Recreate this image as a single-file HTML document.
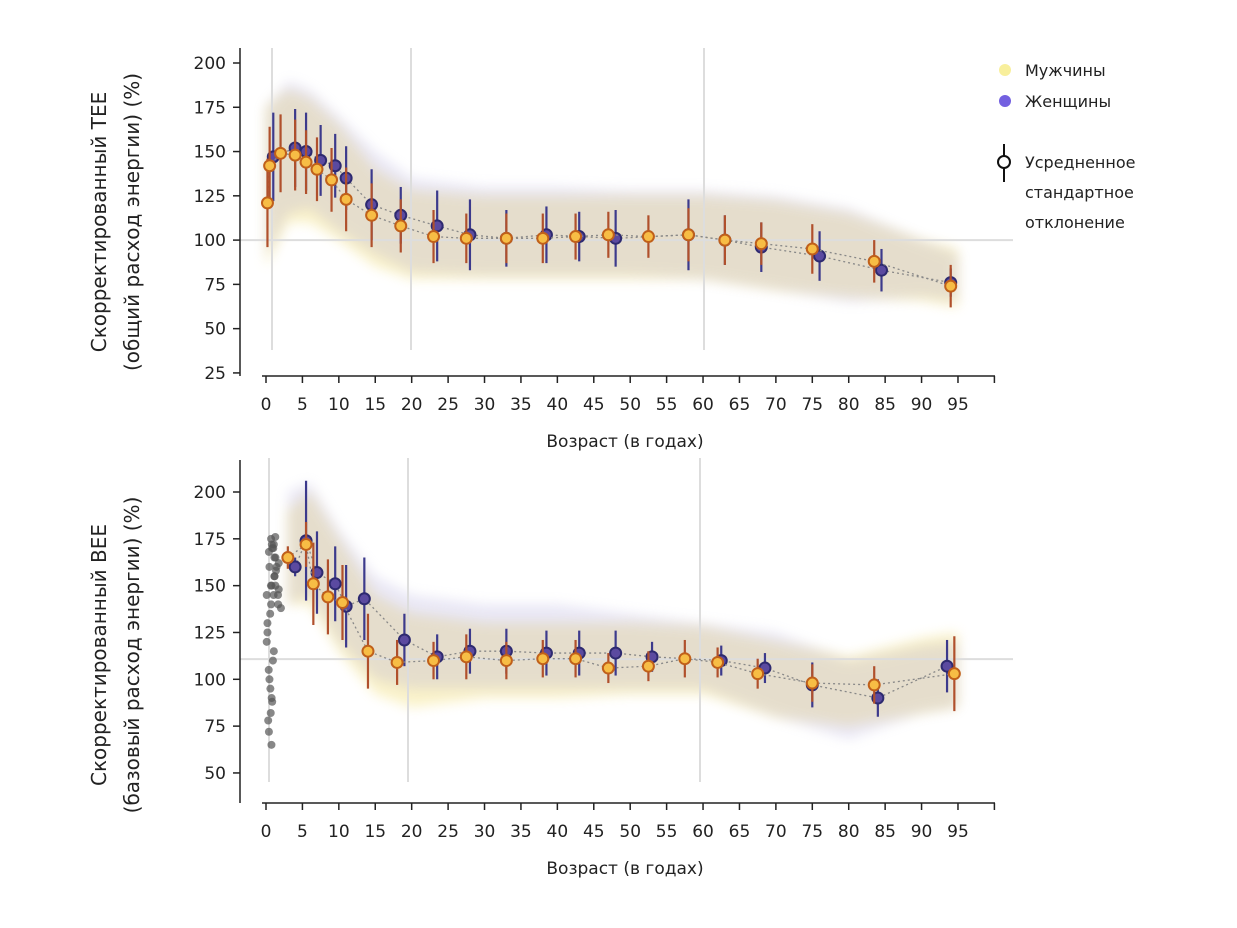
<!DOCTYPE html>
<html><head><meta charset="utf-8"><style>
html,body{margin:0;padding:0;background:#fff;}
svg{display:block;font-family:"DejaVu Sans","Liberation Sans",sans-serif;}
</style></head><body>
<svg id="chart" width="1237" height="928" viewBox="0 0 1237 928" xmlns="http://www.w3.org/2000/svg">
<defs><filter id="blur" x="-20%" y="-20%" width="140%" height="140%"><feGaussianBlur stdDeviation="6"/></filter></defs>
<g id="top"></g>
<g id="bot"></g>
<g font-size="16" fill="#222">
  <circle cx="1005" cy="70" r="6" fill="#f8ef9c"/>
  <text x="1025" y="76">Мужчины</text>
  <circle cx="1005" cy="101" r="6" fill="#7360e0"/>
  <text x="1025" y="107">Женщины</text>
  <line x1="1004" y1="144" x2="1004" y2="182" stroke="#111" stroke-width="2"/>
  <circle cx="1004" cy="162" r="6" fill="#fff" stroke="#111" stroke-width="2"/>
  <text x="1025" y="168">Усредненное</text>
  <text x="1025" y="198">стандартное</text>
  <text x="1025" y="228">отклонение</text>
</g>
</svg>
<script>
// ---- data: top panel (TEE) ----
const teeMenAge=[0.2,0.5,2,4,5.5,7,9,11,14.5,18.5,23,27.5,33,38,42.5,47,52.5,58,63,68,75,83.5,94];
const teeMenVal=[121,142,149,148,144,140,134,123,114,108,102,101,101,101,102,103,102,103,100,98,95,88,74];
const teeMenSd=[25,22,22,20,18,18,18,18,18,15,15,14,14,14,13,13,12,15,14,12,14,12,12];
const teeWomAge=[1,4,5.5,7.5,9.5,11,14.5,18.5,23.5,28,33,38.5,43,48,58,63,68,76,84.5,94];
const teeWomVal=[147,152,150,145,142,135,120,114,108,103,101,103,102,101,103,100,96,91,83,76];
const teeWomSd=[25,22,22,20,18,18,20,16,20,20,16,16,14,16,20,14,14,14,12,8];
const teeCloudAge=[0,3,6,10,15,20,30,40,50,60,70,80,90,95];
const teeMenLo=[85,110,110,100,85,78,78,78,78,78,72,68,66,62];
const teeMenHi=[175,185,180,165,140,128,125,125,125,125,122,115,100,95];
const teeWomLo=[90,115,118,105,92,82,80,80,80,78,72,65,68,66];
const teeWomHi=[175,190,185,170,150,135,130,130,128,128,125,118,100,92];
// ---- data: bottom panel (BEE) ----
const beeMenAge=[3,5.5,6.5,8.5,10.5,14,18,23,27.5,33,38,42.5,47,52.5,57.5,62,67.5,75,83.5,94.5];
const beeMenVal=[165,172,151,144,141,115,109,110,112,110,111,111,106,107,111,109,103,98,97,103];
const beeMenSd=[6,12,22,20,20,20,12,10,12,10,10,10,8,8,10,8,8,10,10,20];
const beeWomAge=[4,5.5,7,9.5,11,13.5,19,23.5,28,33,38.5,43,48,53,62.5,68.5,75,84,93.5];
const beeWomVal=[160,174,157,151,139,143,121,112,115,115,114,114,114,112,110,106,97,90,107];
const beeWomSd=[5,32,22,20,22,22,14,12,12,12,12,12,12,8,8,8,12,10,14];
const beeCloudAge=[3,6,10,15,20,30,40,50,60,70,80,90,95];
const beeMenLo=[140,140,115,92,85,90,90,92,92,80,75,82,85];
const beeMenHi=[190,200,175,145,135,130,130,130,128,120,112,122,125];
const beeWomLo=[140,145,120,100,95,95,95,95,95,80,68,82,85];
const beeWomHi=[200,205,180,155,145,140,140,135,130,125,110,118,120];
const infantAge=[0.1,0.2,0.3,0.4,0.5,0.6,0.7,0.8,0.9,1,1.1,1.2,1.3,1.4,1.5,0.2,0.4,0.6,0.8,1,1.2,0.1,0.3,0.5,0.7,0.9,1.1,1.3,0.2,0.4,0.6,0.8,0.1,0.3,0.5,0.2,0.4,0.1,0.3,0.2];
const infantVal=[145,160,170,168,150,165,175,172,160,170,158,148,165,140,138,130,150,155,172,176,162,120,135,145,140,155,145,150,100,110,95,115,82,78,90,65,72,105,88,125];
const xTicks=[0,5,10,15,20,25,30,35,40,45,50,55,60,65,70,75,80,85,90,95];
const teeYTicks=[25,50,75,100,125,150,175,200];
const beeYTicks=[50,75,100,125,150,175,200];

const NS="http://www.w3.org/2000/svg";
function mk(parent,tag,attrs){const e=document.createElementNS(NS,tag);for(const k in attrs)e.setAttribute(k,attrs[k]);parent.appendChild(e);return e;}
const xS=a=>266+a*7.284;
function panel(g,o){
  const yS=v=>o.y0+(o.top-v)*o.k;
  const band=(lo,hi,col,op,nm)=>{
    let pts=o.cAge.map((a,i)=>xS(a)+","+yS(hi[i]));
    pts=pts.concat(o.cAge.slice().reverse().map((a,i)=>xS(a)+","+yS(lo[lo.length-1-i])));
    const p=mk(g,"polygon",{points:pts.join(" "),fill:col,opacity:op,filter:"url(#blur)"});
    
    
  };
  band(o.mLo,o.mHi,"#f3df78",0.4,'men-scatter-cloud');
  band(o.wLo,o.wHi,"#a9a2d8",0.25,'women-scatter-cloud');
  o.vlines.forEach(x=>{const l=mk(g,"line",{x1:x,x2:x,y1:o.vy1,y2:o.vy2,stroke:"#ddd","stroke-width":2});
    
    });
  const hl=mk(g,"line",{x1:240,x2:1013,y1:yS(o.href),y2:yS(o.href),stroke:"#ddd","stroke-width":2});
  
  
  if(o.inf){o.inf[0].forEach((a,i)=>{const c=mk(g,"circle",{cx:xS(a)+(i%3)*2,cy:yS(o.inf[1][i]),r:4,fill:"#555",opacity:0.7});
    
    });}
  const series=(ages,vals,sds,fill,stroke,bar,nm)=>{
    const pl=mk(g,"polyline",{points:ages.map((a,i)=>xS(a)+","+yS(vals[i])).join(" "),fill:"none",stroke:"#888","stroke-width":1.3,"stroke-dasharray":"2 3"});
    
    
    ages.forEach((a,i)=>{
      const l=mk(g,"line",{x1:xS(a),x2:xS(a),y1:yS(vals[i]-sds[i]),y2:yS(vals[i]+sds[i]),stroke:bar,"stroke-width":2.2});
      
      
    });
    ages.forEach((a,i)=>{
      const c=mk(g,"circle",{cx:xS(a),cy:yS(vals[i]),r:5.5,fill:fill,stroke:stroke,"stroke-width":2});
      
      
    });
  };
  series(o.wA,o.wV,o.wS,"#5b4aa0","#2e2a70","#3c3a8c",'women');
  series(o.mA,o.mV,o.mS,"#f7bd45","#c0601a","#b0502c",'men');
  const ya=mk(g,"line",{x1:240,x2:240,y1:o.ay1,y2:o.ay2,stroke:"#222","stroke-width":1.5});
  
  
  o.yT.forEach(v=>{mk(g,"line",{x1:233,x2:240,y1:yS(v),y2:yS(v),stroke:"#222","stroke-width":1.5});
    const t=mk(g,"text",{x:226,y:yS(v)+6,"text-anchor":"end","font-size":17,fill:"#222"});t.textContent=v;
    
    });
  const xa=mk(g,"line",{x1:262,x2:995,y1:o.xy,y2:o.xy,stroke:"#222","stroke-width":1.5});
  
  
  xTicks.concat([100]).forEach(a=>{mk(g,"line",{x1:xS(a),x2:xS(a),y1:o.xy,y2:o.xy+7,stroke:"#222","stroke-width":1.5});});
  xTicks.forEach(a=>{const t=mk(g,"text",{x:xS(a),y:o.xy+34,"text-anchor":"middle","font-size":17,fill:"#222"});t.textContent=a;
    
    });
  const xt=mk(g,"text",{x:625,y:o.xy+71,"text-anchor":"middle","font-size":17,fill:"#222"});xt.textContent="Возраст (в годах)";
  
  
  o.title.forEach((s,i)=>{const t=mk(g,"text",{transform:`translate(${106+i*33},${o.tc}) rotate(-90)`,"text-anchor":"middle","font-size":20,fill:"#222"});t.textContent=s;
    
    });
}
panel(document.getElementById("top"),{y0:63,top:200,k:1.771,cAge:teeCloudAge,mLo:teeMenLo,mHi:teeMenHi,wLo:teeWomLo,wHi:teeWomHi,
  vlines:[272,411,704],vy1:48,vy2:350,href:100,mA:teeMenAge,mV:teeMenVal,mS:teeMenSd,wA:teeWomAge,wV:teeWomVal,wS:teeWomSd,
  yT:teeYTicks,ay1:48,ay2:376,xy:376,title:["Скорректированный  TEE","(общий расход энергии) (%)"],tc:222});
panel(document.getElementById("bot"),{y0:492,top:200,k:1.873,cAge:beeCloudAge,mLo:beeMenLo,mHi:beeMenHi,wLo:beeWomLo,wHi:beeWomHi,
  vlines:[269,408,700],vy1:458,vy2:782,href:110.8,mA:beeMenAge,mV:beeMenVal,mS:beeMenSd,wA:beeWomAge,wV:beeWomVal,wS:beeWomSd,
  inf:[infantAge,infantVal],yT:beeYTicks,ay1:460,ay2:803,xy:803,title:["Скорректированный  BEE","(базовый расход энергии) (%)"],tc:655});
</script>
</body></html>
